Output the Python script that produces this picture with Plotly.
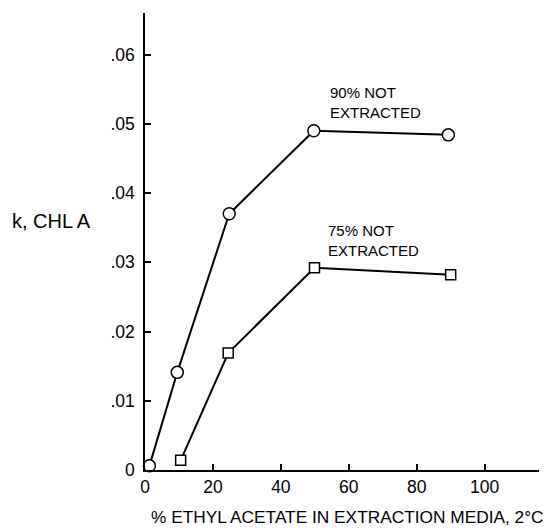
import plotly.graph_objects as go

# Data
x_90 = [1.3, 9.5, 24.8, 49.7, 89.3]
k_90 = [0.0006, 0.0141, 0.0370, 0.0490, 0.0484]

x_75 = [10.5, 24.5, 49.9, 90.0]
k_75 = [0.0014, 0.0169, 0.0292, 0.0282]

x_ticks = [0, 20, 40, 60, 80, 100]
x_tick_text = ["0", "20", "40", "60", "80", "100"]
y_ticks = [0, 0.01, 0.02, 0.03, 0.04, 0.05, 0.06]
y_tick_text = ["0", ".01", ".02", ".03", ".04", ".05", ".06"]

FONT = "Liberation Sans, Arial, Helvetica, sans-serif"

fig = go.Figure()
fig.add_trace(go.Scatter(
    x=x_90, y=k_90, mode="lines+markers",
    line=dict(color="black", width=2),
    marker=dict(symbol="circle", size=12, color="white",
                line=dict(color="black", width=1.5)),
    showlegend=False, cliponaxis=False))
fig.add_trace(go.Scatter(
    x=x_75, y=k_75, mode="lines+markers",
    line=dict(color="black", width=2),
    marker=dict(symbol="square", size=10, color="white",
                line=dict(color="black", width=1.5)),
    showlegend=False, cliponaxis=False))

label_font = dict(family=FONT, size=15, color="black")
fig.add_annotation(x=53.9, y=0.0531, xref="x", yref="y", xanchor="left", yanchor="middle",
                   text="90% NOT<br>EXTRACTED", showarrow=False, align="left", font=label_font)
fig.add_annotation(x=53.3, y=0.0331, xref="x", yref="y", xanchor="left", yanchor="middle",
                   text="75% NOT<br>EXTRACTED", showarrow=False, align="left", font=label_font)

fig.add_annotation(x=-0.343, y=0.545, xref="paper", yref="paper", xanchor="left", yanchor="middle",
                   text="k, CHL A", showarrow=False,
                   font=dict(family=FONT, size=20, color="black"))
fig.add_annotation(x=0.515, y=-0.103, xref="paper", yref="paper", xanchor="center", yanchor="middle",
                   text="% ETHYL ACETATE IN EXTRACTION MEDIA, 2°C", showarrow=False,
                   font=dict(family=FONT, size=17.3, color="black"))

fig.update_xaxes(range=[0, 116], tickvals=x_ticks, ticktext=x_tick_text,
                 showline=True, linecolor="black", linewidth=1.5,
                 ticks="inside", ticklen=6, tickwidth=1.5, tickcolor="black",
                 showgrid=False, zeroline=False,
                 tickfont=dict(family=FONT, size=17.5, color="black"))
fig.update_yaxes(range=[0, 0.066], tickvals=y_ticks, ticktext=y_tick_text,
                 showline=True, linecolor="black", linewidth=1.5,
                 ticks="inside", ticklen=6, tickwidth=1.5, tickcolor="black",
                 showgrid=False, zeroline=False, ticklabelstandoff=5,
                 tickfont=dict(family=FONT, size=17.5, color="black"))

fig.update_layout(width=547, height=524,
                  margin=dict(l=137, r=16, t=5, b=62),
                  paper_bgcolor="white", plot_bgcolor="white",
                  font=dict(family=FONT, color="black"))

fig.write_html("out.html")
